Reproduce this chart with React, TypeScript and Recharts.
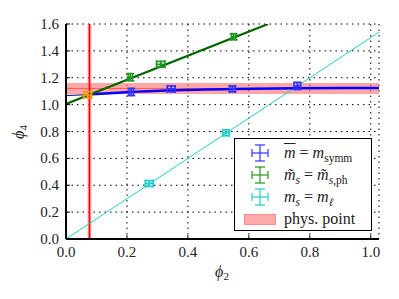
import { ComposedChart, Scatter, Line, XAxis, YAxis, CartesianGrid, ReferenceArea, ReferenceLine, ErrorBar, Legend, Label } from 'recharts'

const xTicks = [0, 0.2, 0.4, 0.6, 0.8, 1.0]
const yTicks = [0, 0.2, 0.4, 0.6, 0.8, 1.0, 1.2, 1.4, 1.6]

// fit curves
const symmFit = [
  { x: 0.07, y: 1.075 }, { x: 0.2, y: 1.093 }, { x: 0.35, y: 1.107 }, { x: 0.55, y: 1.117 },
  { x: 0.75, y: 1.122 }, { x: 1.027, y: 1.124 },
]
const symmFitLow = [{ x: 0, y: 1.068 }, { x: 0.075, y: 1.074 }]
const strangeFit = [{ x: 0, y: 1.005 }, { x: 0.663, y: 1.6 }]
const lightFit = [{ x: 0, y: 0 }, { x: 1.027, y: 1.54 }]

// lattice points
const symmPts = [
  { x: 0.214, y: 1.094, ex: 0.007, ey: 0.027 },
  { x: 0.345, y: 1.117, ex: 0.013, ey: 0.022 },
  { x: 0.546, y: 1.117, ex: 0.009, ey: 0.022 },
  { x: 0.759, y: 1.139, ex: 0.011, ey: 0.027 },
]
const strangePts = [
  { x: 0.211, y: 1.204, ex: 0.007, ey: 0.027 },
  { x: 0.311, y: 1.3, ex: 0.014, ey: 0.022 },
  { x: 0.55, y: 1.505, ex: 0.007, ey: 0.022 },
]
const lightPts = [
  { x: 0.273, y: 0.413, ex: 0.013, ey: 0.022 },
  { x: 0.525, y: 0.79, ex: 0.011, ey: 0.022 },
]
const physPt = [{ x: 0.071, y: 1.072, ex: 0.013, ey: 0.022 }]

const physX = 0.077
const physXErr = 0.006
const physY = 1.12
const physYLo = 1.079
const physYHi = 1.161

const font = '"Liberation Serif", "DejaVu Serif", serif'

const noShape = () => <g />

const BottomTick = ({ x, y, payload }: any) => (
  <g>
    <line x1={x} x2={x} y1={y} y2={y - 4} stroke="#000" strokeWidth={1} />
    <text x={x} y={y + 18} textAnchor="middle" fontSize={15} fontFamily={font} fill="#222">{payload.value.toFixed(1)}</text>
  </g>
)
const LeftTick = ({ x, y, payload }: any) => (
  <g>
    <line x1={x} x2={x + 4} y1={y} y2={y} stroke="#000" strokeWidth={1} />
    <text x={x - 7} y={y + 5} textAnchor="end" fontSize={15} fontFamily={font} fill="#222">{payload.value.toFixed(1)}</text>
  </g>
)
const TopTick = ({ x, y }: any) => <line x1={x} x2={x} y1={y} y2={y + 4} stroke="#000" strokeWidth={1} />
const RightTick = ({ x, y }: any) => <line x1={x} x2={x - 4} y1={y} y2={y} stroke="#000" strokeWidth={1} />

const ErrIcon = ({ color }: { color: string }) => (
  <svg width={18} height={18} style={{ display: 'block' }}>
    <g stroke={color} strokeWidth={1.2} fill="none">
      <line x1={1} x2={17} y1={9} y2={9} />
      <line x1={9} x2={9} y1={1} y2={17} />
      <line x1={1} x2={1} y1={5} y2={13} />
      <line x1={17} x2={17} y1={5} y2={13} />
      <line x1={4} x2={14} y1={1} y2={1} />
      <line x1={4} x2={14} y1={17} y2={17} />
    </g>
  </svg>
)

const it = { fontStyle: 'italic' } as const
const sub = { fontSize: 11.5, verticalAlign: 'sub', lineHeight: 0 } as const

const renderLegend = () => (
  <div style={{ width: '100%', height: '100%', boxSizing: 'border-box', border: '1.5px solid #000', background: '#fff', fontFamily: font, fontSize: 16, color: '#222', paddingTop: 3 }}>
    {[
      { color: '#3333ff', label: <><span style={{ ...it, textDecoration: 'overline' }}>m</span> = <span style={it}>m</span><span style={sub}>symm</span></> },
      { color: '#229922', label: <><span style={it}>m&#x303;</span><span style={{ ...sub, ...it }}>s</span> = <span style={it}>m&#x303;</span><span style={sub}><i>s</i>,ph</span></> },
      { color: '#22cccc', label: <><span style={it}>m</span><span style={{ ...sub, ...it }}>s</span> = <span style={it}>m</span><span style={{ ...sub, ...it }}>ℓ</span></> },
    ].map((e, i) => (
      <div key={i} style={{ display: 'flex', alignItems: 'center', height: 22 }}>
        <div style={{ width: 49, display: 'flex', justifyContent: 'center' }}><ErrIcon color={e.color} /></div>
        <div>{e.label}</div>
      </div>
    ))}
    <div style={{ display: 'flex', alignItems: 'center', height: 22 }}>
      <div style={{ width: 49, display: 'flex', justifyContent: 'center' }}>
        <div style={{ width: 32, height: 11, background: '#ffaaaa', border: '1px solid #ff8c8c', boxSizing: 'border-box' }} />
      </div>
      <div>phys. point</div>
    </div>
  </div>
)

const PhiLabel = ({ sub: s, x, y, rotate }: { sub: string; x: number; y: number; rotate?: boolean }) => (
  <text x={x} y={y} textAnchor="middle" fontFamily={font} fontSize={16} fill="#222" transform={rotate ? `rotate(-90 ${x} ${y})` : undefined}>
    <tspan fontStyle="italic">ϕ</tspan><tspan fontSize={11} dy={3}>{s}</tspan>
  </text>
)

export default function App() {
  return (
    <div style={{ position: 'absolute', left: 0, top: 0, background: '#fff' }}>
      <style>{'body{margin:0}'}</style>
      <ComposedChart width={399} height={299} margin={{ top: 24, right: 20, left: 0, bottom: 0 }}>
        <CartesianGrid stroke="#000" strokeDasharray="1.5 4" strokeWidth={1} />
        <XAxis dataKey="x" type="number" domain={[0, 1.027]} ticks={xTicks} allowDataOverflow height={60}
          axisLine={{ stroke: '#000', strokeWidth: 2 }} tickLine={false} tickSize={0} tickMargin={0} tick={<BottomTick />}>
          <Label content={() => <PhiLabel sub="2" x={222} y={277} />} />
        </XAxis>
        <XAxis xAxisId="top" orientation="top" dataKey="x" type="number" domain={[0, 1.027]} ticks={xTicks} allowDataOverflow height={0}
          axisLine={{ stroke: '#000', strokeWidth: 2 }} tickLine={false} tickSize={0} tickMargin={0} tick={<TopTick />} />
        <YAxis dataKey="y" type="number" domain={[0, 1.6]} ticks={yTicks} allowDataOverflow width={66}
          axisLine={{ stroke: '#000', strokeWidth: 2 }} tickLine={false} tickSize={0} tickMargin={0} tick={<LeftTick />}>
          <Label content={() => <PhiLabel sub="4" x={24} y={132} rotate />} />
        </YAxis>
        <YAxis yAxisId="right" orientation="right" dataKey="y" type="number" domain={[0, 1.6]} ticks={yTicks} allowDataOverflow width={0}
          axisLine={{ stroke: '#000', strokeWidth: 2 }} tickLine={false} tickSize={0} tickMargin={0} tick={<RightTick />} />

        <ReferenceArea y1={physYLo} y2={physYHi} fill="#ff6a6a" fillOpacity={0.6} stroke="none" />
        <ReferenceLine y={physY} stroke="#ff5c5c" strokeWidth={1} />
        <ReferenceArea x1={physX - physXErr} x2={physX + physXErr} fill="#ff7070" fillOpacity={0.6} stroke="none" />
        <ReferenceLine x={physX} stroke="#ff0000" strokeWidth={1.5} />

        <Line data={lightFit} dataKey="y" stroke="#22cccc" strokeWidth={1} dot={false} isAnimationActive={false} />
        <Line data={symmFitLow} dataKey="y" stroke="#000066" strokeWidth={1} dot={false} isAnimationActive={false} />
        <Line data={symmFit} dataKey="y" type="monotone" stroke="#0000ff" strokeWidth={2.5} dot={false} isAnimationActive={false} />
        <Line data={strangeFit} dataKey="y" stroke="#006400" strokeWidth={2.2} dot={false} isAnimationActive={false} />

        <Scatter data={symmPts} shape={noShape} isAnimationActive={false}>
          <ErrorBar dataKey="ex" direction="x" stroke="#3333ff" strokeWidth={1.7} width={4} />
          <ErrorBar dataKey="ey" direction="y" stroke="#3333ff" strokeWidth={1.7} width={4} />
        </Scatter>
        <Scatter data={strangePts} shape={noShape} isAnimationActive={false}>
          <ErrorBar dataKey="ex" direction="x" stroke="#229922" strokeWidth={1.7} width={4} />
          <ErrorBar dataKey="ey" direction="y" stroke="#229922" strokeWidth={1.7} width={4} />
        </Scatter>
        <Scatter data={lightPts} shape={noShape} isAnimationActive={false}>
          <ErrorBar dataKey="ex" direction="x" stroke="#22cccc" strokeWidth={1.7} width={4} />
          <ErrorBar dataKey="ey" direction="y" stroke="#22cccc" strokeWidth={1.7} width={4} />
        </Scatter>
        <Scatter data={physPt} shape={noShape} isAnimationActive={false}>
          <ErrorBar dataKey="ex" direction="x" stroke="#ff9900" strokeWidth={1.7} width={4} />
          <ErrorBar dataKey="ey" direction="y" stroke="#ff9900" strokeWidth={1.7} width={4} />
        </Scatter>

        <Legend content={renderLegend} layout="horizontal" verticalAlign="middle" align="center"
          wrapperStyle={{ left: 234, top: 138, width: 138, height: 93 }} />
      </ComposedChart>
    </div>
  )
}
